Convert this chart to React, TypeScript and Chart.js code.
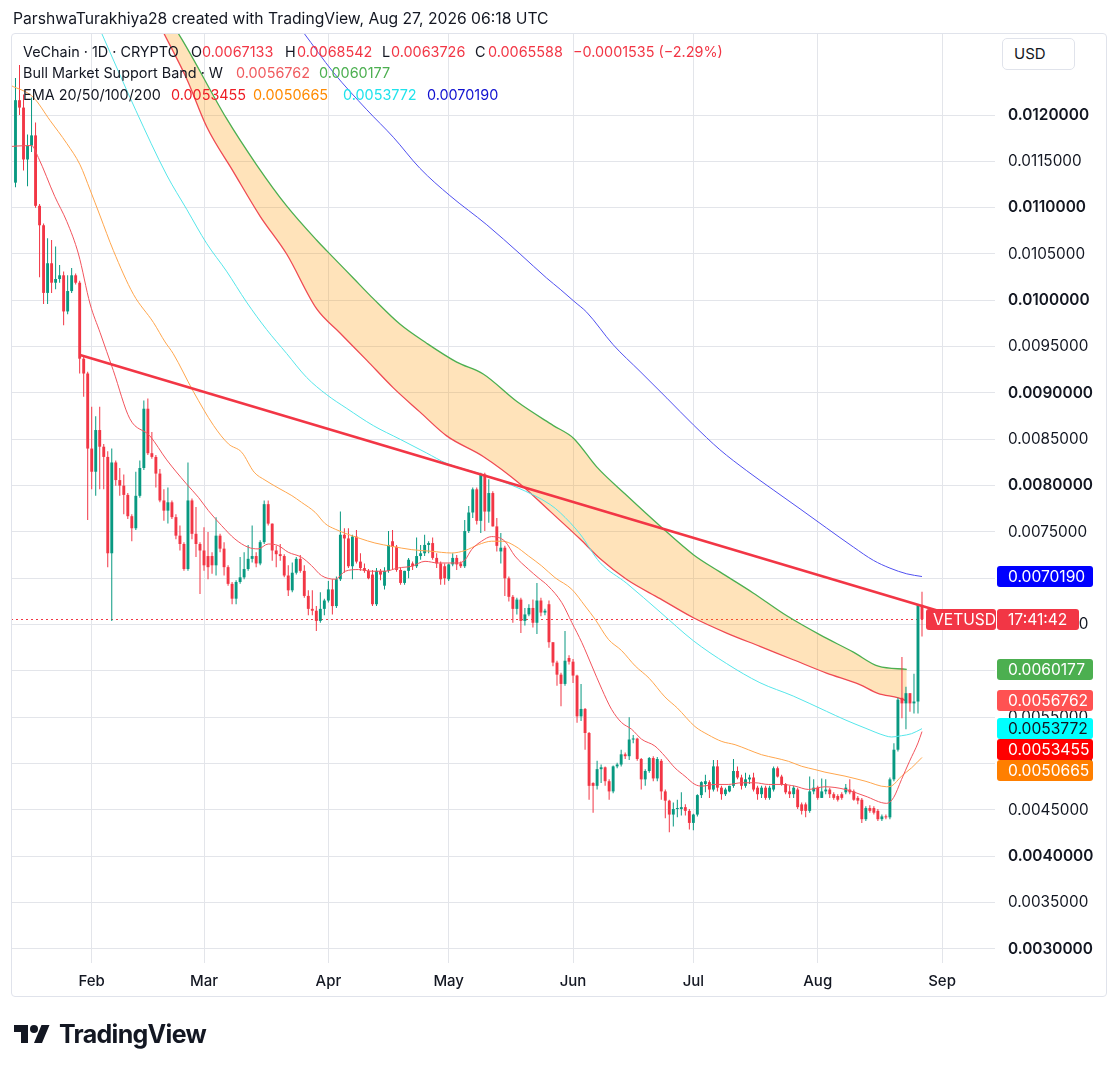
import React, { useEffect, useRef } from 'react';
import { Chart, registerables } from 'chart.js';

Chart.register(...registerables);

const FONT = 'Inter, "Noto Sans", "DejaVu Sans", sans-serif';
const TEXT = '#131722';
const UP = '#089981';
const DOWN = '#F23645';
const GRID = '#e3e5ea';

// Day index 0 = Jan 13 2026 (daily candles)
const OPEN = [
  0.01127, 0.01216, 0.01208, 0.01152, 0.01167, 0.01178, 0.01102, 0.01081, 0.01008, 0.01040,
  0.01019, 0.01023, 0.01027, 0.00988, 0.01010, 0.01027, 0.01019, 0.00937, 0.00921, 0.00840,
  0.00815, 0.00860, 0.00842, 0.00831, 0.00727, 0.00825, 0.00806, 0.00800, 0.00790, 0.00767,
  0.00754, 0.00789, 0.00819, 0.00883, 0.00835, 0.00831, 0.00813, 0.00784, 0.00773, 0.00782,
  0.00766, 0.00746, 0.00737, 0.00710, 0.00784, 0.00748, 0.00737, 0.00730, 0.00724, 0.00724,
  0.00714, 0.00746, 0.00732, 0.00712, 0.00694, 0.00678, 0.00696, 0.00701, 0.00710, 0.00721,
  0.00724, 0.00716, 0.00739, 0.00780, 0.00759, 0.00730, 0.00726, 0.00724, 0.00703, 0.00687,
  0.00706, 0.00721, 0.00708, 0.00681, 0.00667, 0.00665, 0.00654, 0.00667, 0.00676, 0.00688,
  0.00670, 0.00699, 0.00747, 0.00743, 0.00713, 0.00745, 0.00718, 0.00711, 0.00708, 0.00704,
  0.00672, 0.00708, 0.00692, 0.00708, 0.00740, 0.00734, 0.00709, 0.00695, 0.00708, 0.00716,
  0.00713, 0.00724, 0.00727, 0.00736, 0.00738, 0.00722, 0.00716, 0.00713, 0.00699, 0.00715,
  0.00722, 0.00716, 0.00713, 0.00751, 0.00771, 0.00796, 0.00762, 0.00812, 0.00772, 0.00792,
  0.00756, 0.00729, 0.00733, 0.00700, 0.00680, 0.00667, 0.00677, 0.00654, 0.00661, 0.00668,
  0.00652, 0.00676, 0.00663, 0.00672, 0.00631, 0.00609, 0.00596, 0.00586, 0.00614, 0.00610,
  0.00595, 0.00551, 0.00559, 0.00533, 0.00479, 0.00476, 0.00494, 0.00496, 0.00481, 0.00470,
  0.00497, 0.00499, 0.00510, 0.00508, 0.00526, 0.00527, 0.00505, 0.00483, 0.00492, 0.00506,
  0.00484, 0.00503, 0.00470, 0.00460, 0.00445, 0.00451, 0.00451, 0.00453, 0.00449, 0.00436,
  0.00445, 0.00466, 0.00478, 0.00480, 0.00472, 0.00497, 0.00474, 0.00467, 0.00470, 0.00476,
  0.00492, 0.00485, 0.00476, 0.00483, 0.00485, 0.00474, 0.00467, 0.00474, 0.00463, 0.00472,
  0.00495, 0.00486, 0.00478, 0.00470, 0.00467, 0.00472, 0.00456, 0.00456, 0.00449, 0.00470,
  0.00474, 0.00463, 0.00470, 0.00472, 0.00467, 0.00465, 0.00467, 0.00469, 0.00472, 0.00470,
  0.00463, 0.00461, 0.00440, 0.00452, 0.00452, 0.00449, 0.00440, 0.00443, 0.00442, 0.00483,
  0.00515, 0.00571, 0.00565, 0.00576, 0.00565, 0.00567, 0.0067133,
];
const HIGH = [
  0.01240, 0.01254, 0.01222, 0.01179, 0.01219, 0.01192, 0.01104, 0.01083, 0.01067, 0.01065,
  0.01058, 0.01038, 0.01031, 0.01027, 0.01035, 0.01029, 0.01021, 0.00939, 0.00923, 0.00885,
  0.00875, 0.00885, 0.00845, 0.00837, 0.00840, 0.00827, 0.00819, 0.00812, 0.00792, 0.00769,
  0.00815, 0.00827, 0.00892, 0.00894, 0.00858, 0.00833, 0.00818, 0.00796, 0.00798, 0.00784,
  0.00769, 0.00757, 0.00739, 0.00825, 0.00786, 0.00777, 0.00739, 0.00755, 0.00750, 0.00728,
  0.00766, 0.00748, 0.00739, 0.00714, 0.00696, 0.00698, 0.00723, 0.00728, 0.00736, 0.00757,
  0.00728, 0.00741, 0.00784, 0.00784, 0.00759, 0.00735, 0.00737, 0.00726, 0.00714, 0.00717,
  0.00723, 0.00725, 0.00714, 0.00687, 0.00687, 0.00670, 0.00685, 0.00678, 0.00697, 0.00699,
  0.00702, 0.00772, 0.00754, 0.00754, 0.00747, 0.00752, 0.00727, 0.00716, 0.00710, 0.00709,
  0.00711, 0.00710, 0.00712, 0.00751, 0.00752, 0.00736, 0.00711, 0.00708, 0.00722, 0.00718,
  0.00744, 0.00736, 0.00747, 0.00740, 0.00744, 0.00727, 0.00718, 0.00716, 0.00716, 0.00727,
  0.00725, 0.00718, 0.00763, 0.00778, 0.00798, 0.00798, 0.00814, 0.00814, 0.00807, 0.00794,
  0.00765, 0.00749, 0.00735, 0.00702, 0.00682, 0.00679, 0.00679, 0.00668, 0.00672, 0.00677,
  0.00695, 0.00679, 0.00667, 0.00676, 0.00631, 0.00611, 0.00598, 0.00643, 0.00617, 0.00613,
  0.00596, 0.00586, 0.00560, 0.00534, 0.00480, 0.00503, 0.00499, 0.00497, 0.00483, 0.00498,
  0.00501, 0.00515, 0.00512, 0.00550, 0.00531, 0.00528, 0.00506, 0.00494, 0.00507, 0.00508,
  0.00507, 0.00505, 0.00472, 0.00461, 0.00458, 0.00461, 0.00469, 0.00456, 0.00451, 0.00446,
  0.00467, 0.00481, 0.00488, 0.00482, 0.00504, 0.00504, 0.00476, 0.00474, 0.00476, 0.00505,
  0.00497, 0.00488, 0.00490, 0.00488, 0.00490, 0.00476, 0.00476, 0.00476, 0.00476, 0.00497,
  0.00497, 0.00488, 0.00479, 0.00476, 0.00476, 0.00474, 0.00458, 0.00458, 0.00486, 0.00483,
  0.00476, 0.00484, 0.00483, 0.00474, 0.00469, 0.00467, 0.00469, 0.00478, 0.00483, 0.00472,
  0.00465, 0.00463, 0.00454, 0.00455, 0.00454, 0.00451, 0.00445, 0.00445, 0.00485, 0.00522,
  0.00571, 0.00615, 0.00583, 0.00576, 0.00597, 0.00672, 0.0068542,
];
const LOW = [
  0.01122, 0.01200, 0.01140, 0.01123, 0.01160, 0.01100, 0.01025, 0.00996, 0.00996, 0.01008,
  0.01012, 0.01019, 0.00973, 0.00985, 0.01008, 0.01017, 0.00921, 0.00896, 0.00763, 0.00796,
  0.00789, 0.00796, 0.00796, 0.00712, 0.00654, 0.00800, 0.00789, 0.00769, 0.00764, 0.00740,
  0.00752, 0.00787, 0.00817, 0.00833, 0.00829, 0.00798, 0.00782, 0.00762, 0.00759, 0.00764,
  0.00742, 0.00730, 0.00708, 0.00708, 0.00742, 0.00723, 0.00683, 0.00708, 0.00699, 0.00705,
  0.00703, 0.00728, 0.00703, 0.00692, 0.00672, 0.00672, 0.00694, 0.00699, 0.00708, 0.00717,
  0.00712, 0.00714, 0.00737, 0.00757, 0.00719, 0.00712, 0.00719, 0.00701, 0.00681, 0.00685,
  0.00704, 0.00706, 0.00679, 0.00660, 0.00660, 0.00643, 0.00652, 0.00660, 0.00674, 0.00661,
  0.00668, 0.00697, 0.00706, 0.00711, 0.00699, 0.00716, 0.00708, 0.00706, 0.00699, 0.00670,
  0.00670, 0.00698, 0.00688, 0.00706, 0.00709, 0.00707, 0.00693, 0.00693, 0.00700, 0.00709,
  0.00711, 0.00720, 0.00724, 0.00727, 0.00720, 0.00711, 0.00693, 0.00693, 0.00697, 0.00713,
  0.00709, 0.00711, 0.00711, 0.00749, 0.00765, 0.00758, 0.00749, 0.00751, 0.00760, 0.00756,
  0.00729, 0.00716, 0.00681, 0.00675, 0.00652, 0.00661, 0.00641, 0.00649, 0.00659, 0.00647,
  0.00640, 0.00659, 0.00660, 0.00625, 0.00605, 0.00584, 0.00562, 0.00584, 0.00607, 0.00587,
  0.00544, 0.00546, 0.00515, 0.00461, 0.00447, 0.00472, 0.00479, 0.00476, 0.00461, 0.00468,
  0.00495, 0.00497, 0.00505, 0.00504, 0.00522, 0.00503, 0.00472, 0.00476, 0.00490, 0.00481,
  0.00481, 0.00461, 0.00441, 0.00426, 0.00432, 0.00442, 0.00444, 0.00444, 0.00429, 0.00428,
  0.00443, 0.00463, 0.00469, 0.00463, 0.00470, 0.00470, 0.00461, 0.00465, 0.00469, 0.00474,
  0.00483, 0.00472, 0.00474, 0.00478, 0.00470, 0.00461, 0.00463, 0.00461, 0.00461, 0.00470,
  0.00485, 0.00476, 0.00467, 0.00463, 0.00463, 0.00451, 0.00445, 0.00442, 0.00447, 0.00467,
  0.00461, 0.00463, 0.00467, 0.00463, 0.00461, 0.00459, 0.00461, 0.00467, 0.00467, 0.00460,
  0.00456, 0.00436, 0.00438, 0.00447, 0.00445, 0.00438, 0.00438, 0.00440, 0.00440, 0.00481,
  0.00513, 0.00549, 0.00537, 0.00556, 0.00554, 0.00554, 0.0063726,
];
const CLOSE = [
  0.01216, 0.01208, 0.01152, 0.01167, 0.01178, 0.01102, 0.01081, 0.01008, 0.01040, 0.01019,
  0.01023, 0.01027, 0.00988, 0.01010, 0.01027, 0.01019, 0.00937, 0.00921, 0.00840, 0.00815,
  0.00860, 0.00842, 0.00831, 0.00727, 0.00825, 0.00806, 0.00800, 0.00790, 0.00767, 0.00754,
  0.00789, 0.00819, 0.00883, 0.00835, 0.00831, 0.00813, 0.00784, 0.00773, 0.00782, 0.00766,
  0.00746, 0.00737, 0.00710, 0.00784, 0.00748, 0.00737, 0.00730, 0.00714, 0.00712, 0.00714,
  0.00746, 0.00732, 0.00712, 0.00694, 0.00678, 0.00696, 0.00701, 0.00710, 0.00721, 0.00724,
  0.00716, 0.00739, 0.00780, 0.00759, 0.00730, 0.00726, 0.00724, 0.00703, 0.00687, 0.00706,
  0.00721, 0.00708, 0.00681, 0.00667, 0.00665, 0.00654, 0.00667, 0.00676, 0.00688, 0.00670,
  0.00699, 0.00747, 0.00743, 0.00713, 0.00745, 0.00718, 0.00711, 0.00708, 0.00700, 0.00672,
  0.00708, 0.00704, 0.00708, 0.00736, 0.00734, 0.00709, 0.00695, 0.00708, 0.00720, 0.00713,
  0.00724, 0.00727, 0.00736, 0.00738, 0.00722, 0.00716, 0.00699, 0.00700, 0.00715, 0.00722,
  0.00715, 0.00713, 0.00751, 0.00771, 0.00796, 0.00762, 0.00812, 0.00772, 0.00792, 0.00756,
  0.00735, 0.00733, 0.00700, 0.00680, 0.00667, 0.00677, 0.00654, 0.00661, 0.00668, 0.00652,
  0.00676, 0.00663, 0.00665, 0.00631, 0.00609, 0.00596, 0.00586, 0.00611, 0.00610, 0.00595,
  0.00551, 0.00559, 0.00533, 0.00476, 0.00476, 0.00494, 0.00496, 0.00481, 0.00470, 0.00497,
  0.00499, 0.00510, 0.00508, 0.00526, 0.00527, 0.00505, 0.00483, 0.00492, 0.00506, 0.00484,
  0.00505, 0.00470, 0.00460, 0.00445, 0.00451, 0.00452, 0.00453, 0.00449, 0.00436, 0.00445,
  0.00466, 0.00480, 0.00481, 0.00472, 0.00497, 0.00474, 0.00467, 0.00472, 0.00476, 0.00492,
  0.00485, 0.00476, 0.00483, 0.00485, 0.00472, 0.00467, 0.00474, 0.00463, 0.00474, 0.00495,
  0.00486, 0.00478, 0.00469, 0.00467, 0.00474, 0.00453, 0.00449, 0.00449, 0.00470, 0.00474,
  0.00463, 0.00470, 0.00472, 0.00467, 0.00463, 0.00461, 0.00463, 0.00474, 0.00469, 0.00461,
  0.00460, 0.00440, 0.00452, 0.00449, 0.00447, 0.00440, 0.00443, 0.00442, 0.00483, 0.00515,
  0.00569, 0.00565, 0.00576, 0.00565, 0.00567, 0.00671, 0.0065588,
];

const EMA20_DAYS = [-1.2, 0.3, 4, 5.7, 9.8, 12.8, 15.7, 18.6, 21.1, 24.4, 28.5, 33.5, 37.7, 42.5, 45.6, 48.1, 51.4, 54.7, 58, 60.5, 63, 65.5, 68, 71.3, 73.8, 76.3, 79.7, 82.2, 85.5, 88.8, 92.1, 95.4, 98.8, 102.1, 105.4, 110.4, 112.1, 113.7, 116.2, 118.7, 122, 124.5, 127.9, 130.3, 132.8, 136.2, 138.7, 141.2, 143.7, 146.2, 148.6, 151.1, 153.6, 156.1, 159.4, 161.9, 164.4, 166.9, 169.4, 171.1, 174.4, 177.7, 181, 184.4, 187.7, 191, 194.3, 197.7, 201.8, 206.8, 211.8, 217.2, 218.9, 220.9, 222.9, 225, 226];
const EMA20_VALUES = [0.01166, 0.011665, 0.01167, 0.01154, 0.01112, 0.01085, 0.0105, 0.00996, 0.00965, 0.009241, 0.008722, 0.008537, 0.008278, 0.008025, 0.007874, 0.00773, 0.007568, 0.007424, 0.007335, 0.007317, 0.00737, 0.007353, 0.007281, 0.007227, 0.007137, 0.007029, 0.00699, 0.007076, 0.007094, 0.007076, 0.007076, 0.007112, 0.00713, 0.007183, 0.007165, 0.007165, 0.0072, 0.007309, 0.0074, 0.00745, 0.0074, 0.007241, 0.007097, 0.007007, 0.006917, 0.006737, 0.006522, 0.006306, 0.006054, 0.005802, 0.005586, 0.005443, 0.005371, 0.005263, 0.00519, 0.00508, 0.004954, 0.004864, 0.004775, 0.004757, 0.004775, 0.004775, 0.004793, 0.004793, 0.004775, 0.004775, 0.004757, 0.004721, 0.00475, 0.004722, 0.00465, 0.004571, 0.004632, 0.004829, 0.005026, 0.005223, 0.0053455];

const EMA50_DAYS = [-1.2, 4.4, 8.6, 12.8, 16.1, 18.6, 21.1, 24.4, 29.4, 34.4, 37.3, 39.3, 44.3, 49.4, 53.1, 56.4, 59.5, 62.2, 65.7, 68.9, 71.3, 74.7, 77.2, 79.7, 85.9, 89.6, 93.8, 98.8, 103.8, 108.7, 112.1, 115.4, 118.7, 121.5, 124.5, 127.9, 131.2, 134.5, 138.7, 142, 144.5, 147.8, 151.1, 154.5, 158, 161.9, 165, 169.4, 172.7, 176.1, 179.4, 182.7, 186, 189.4, 192.7, 196, 199.3, 201.8, 206.8, 211.8, 217.2, 218.4, 220.9, 223.4, 226];
const EMA50_VALUES = [0.01232, 0.012192, 0.011942, 0.011692, 0.011462, 0.011192, 0.01091, 0.010537, 0.010065, 0.00976, 0.00955, 0.009426, 0.009019, 0.008648, 0.00845, 0.00836, 0.008145, 0.00806, 0.00797, 0.007892, 0.00782, 0.007712, 0.00759, 0.00753, 0.00743, 0.007381, 0.007345, 0.007309, 0.007291, 0.007273, 0.0073, 0.007363, 0.0074, 0.0074, 0.007349, 0.007241, 0.007133, 0.007007, 0.006881, 0.006701, 0.006558, 0.006342, 0.00622, 0.006054, 0.00592, 0.00572, 0.0056, 0.0054, 0.005311, 0.005239, 0.005204, 0.00515, 0.005096, 0.005061, 0.005025, 0.004971, 0.004936, 0.004908, 0.004865, 0.004811, 0.00475, 0.004758, 0.004865, 0.004954, 0.0050665];

const EMA100_DAYS = [21.3, 30, 37.7, 42.7, 47.7, 52.6, 57.6, 62.6, 67.6, 72.6, 77.6, 82.6, 89.2, 95.9, 102.5, 107.5, 115.8, 125, 133.3, 135.8, 140.7, 145.7, 152.4, 160.7, 169, 177.3, 185.6, 193.9, 202.2, 206.8, 211.8, 216.8, 218.4, 220.9, 223.4, 226];
const EMA100_VALUES = [0.0129, 0.01205, 0.011352, 0.010981, 0.010611, 0.010315, 0.009981, 0.009685, 0.009426, 0.009167, 0.008981, 0.008833, 0.008648, 0.0085, 0.008352, 0.00824, 0.008129, 0.007981, 0.007796, 0.007708, 0.00748, 0.007171, 0.006945, 0.006636, 0.006326, 0.006079, 0.005873, 0.005729, 0.005564, 0.005473, 0.005384, 0.005301, 0.005287, 0.005301, 0.005323, 0.0053772];

const EMA200_DAYS = [71.8, 79.2, 87.6, 94.2, 100.8, 108.3, 117.5, 125.8, 132.4, 135.8, 139.5, 142.4, 149, 155.7, 162.4, 169, 175.6, 182.3, 188.9, 195.6, 202.2, 208.9, 213.9, 218, 222.2, 226];
const EMA200_VALUES = [0.01289, 0.012463, 0.012056, 0.01176, 0.011426, 0.01113, 0.010815, 0.0105, 0.010241, 0.010119, 0.00998, 0.009872, 0.009521, 0.009233, 0.008944, 0.008656, 0.008388, 0.008161, 0.007955, 0.007749, 0.007543, 0.007337, 0.007193, 0.00711, 0.007048, 0.007019];

const BAND_LOWER_DAYS = [36.9, 42.7, 47.7, 54.3, 61, 67.6, 75.1, 80.9, 87.6, 94.2, 100.8, 107.5, 116.6, 125.8, 133.3, 140.7, 145.7, 152.4, 160.7, 169, 177.3, 185.6, 193.9, 202.2, 210.5, 215, 220.1, 222.2];
const BAND_LOWER_VALUES = [0.01289, 0.012389, 0.01187, 0.011389, 0.010907, 0.0105, 0.009907, 0.009648, 0.009352, 0.009055, 0.008796, 0.008537, 0.008315, 0.008018, 0.007722, 0.007426, 0.007213, 0.006986, 0.00678, 0.006574, 0.006409, 0.006265, 0.006121, 0.005977, 0.005853, 0.005759, 0.005709, 0.0056762];

const BAND_UPPER_DAYS = [36, 41, 52.6, 60.1, 67.6, 75.1, 79.2, 84.2, 89.2, 95.9, 102.5, 110, 116.6, 125, 134.1, 139.1, 144.9, 152.4, 160.7, 169, 175.6, 183.9, 192.3, 200.6, 208.9, 215.1, 222.2];
const BAND_UPPER_VALUES = [0.01317, 0.012852, 0.011963, 0.011463, 0.011019, 0.010648, 0.010463, 0.010241, 0.010018, 0.009741, 0.009537, 0.009333, 0.009204, 0.008907, 0.008648, 0.008512, 0.008202, 0.007893, 0.007564, 0.007255, 0.007069, 0.006842, 0.006595, 0.006389, 0.006203, 0.006051, 0.0060177];

const TREND_DAYS = [16.1, 230];
const TREND_VALUES = [0.00941, 0.00665];

const MONTH_DAYS = [19, 47, 78, 108, 139, 169, 200, 231];
const MONTH_LABELS = ['Feb', 'Mar', 'Apr', 'May', 'Jun', 'Jul', 'Aug', 'Sep'];
const Y_TICKS = [0.003, 0.0035, 0.004, 0.0045, 0.005, 0.0055, 0.006, 0.0065, 0.007, 0.0075, 0.008, 0.0085, 0.009, 0.0095, 0.01, 0.0105, 0.011, 0.0115, 0.012];

const LAST_PRICE = 0.0065588;
const COUNTDOWN = '17:41:42';
const AXIS_LABEL_VALUES = [0.0070190, LAST_PRICE, 0.0060177, 0.0056762, 0.0053772, 0.0053455, 0.0050665];
const AXIS_LABEL_TEXTS = ['0.0070190', COUNTDOWN, '0.0060177', '0.0056762', '0.0053772', '0.0053455', '0.0050665'];
const AXIS_LABEL_BG = ['#0000FF', '#F23645', '#4CAF50', '#FF5252', '#00FFFF', '#FF0000', '#FF7F00'];
const AXIS_LABEL_FG = ['#ffffff', '#ffffff', '#ffffff', '#ffffff', '#131722', '#ffffff', '#ffffff'];
const AXIS_LABEL_W = [96, 82, 96, 96, 96, 96, 96];

const LEGEND_ROWS = [
  {
    y: 52,
    items: [
      { t: 'VeChain · 1D · CRYPTO', x: 23, c: TEXT },
      { t: 'O', x: 191, c: TEXT },
      { t: '0.0067133', x: 202, c: DOWN },
      { t: 'H', x: 285, c: TEXT },
      { t: '0.0068542', x: 297, c: DOWN },
      { t: 'L', x: 382, c: TEXT },
      { t: '0.0063726', x: 391, c: DOWN },
      { t: 'C', x: 475, c: TEXT },
      { t: '0.0065588', x: 488, c: DOWN },
      { t: '−0.0001535 (−2.29%)', x: 573, c: DOWN },
    ],
  },
  {
    y: 73,
    items: [
      { t: 'Bull Market Support Band · W', x: 23, c: TEXT },
      { t: '0.0056762', x: 236, c: '#F05A5E' },
      { t: '0.0060177', x: 319, c: '#4CAF50' },
    ],
  },
  {
    y: 95,
    items: [
      { t: 'EMA 20/50/100/200', x: 23, c: TEXT },
      { t: '0.0053455', x: 171, c: '#EE1C25' },
      { t: '0.0050665', x: 253, c: '#FF8A00' },
      { t: '0.0053772', x: 343, c: '#1FE3EC' },
      { t: '0.0070190', x: 427, c: '#1010D0' },
    ],
  },
];

const pts = (days: number[], vals: number[]) => days.map((d, i) => ({ x: d, y: vals[i] }));

function roundRect(ctx: CanvasRenderingContext2D, x: number, y: number, w: number, h: number, r: number) {
  ctx.beginPath();
  ctx.moveTo(x + r, y);
  ctx.lineTo(x + w - r, y);
  ctx.quadraticCurveTo(x + w, y, x + w, y + r);
  ctx.lineTo(x + w, y + h - r);
  ctx.quadraticCurveTo(x + w, y + h, x + w - r, y + h);
  ctx.lineTo(x + r, y + h);
  ctx.quadraticCurveTo(x, y + h, x, y + h - r);
  ctx.lineTo(x, y + r);
  ctx.quadraticCurveTo(x, y, x + r, y);
  ctx.closePath();
}

const overlayPlugin = {
  id: 'tvOverlay',
  beforeDatasetsDraw(chart: any) {
    const { ctx, chartArea } = chart;
    const py = Math.round(chart.scales.y.getPixelForValue(LAST_PRICE)) + 0.5;
    ctx.save();
    ctx.strokeStyle = '#F23645';
    ctx.lineWidth = 1;
    ctx.setLineDash([2, 3]);
    ctx.beginPath();
    ctx.moveTo(chartArea.left, py);
    ctx.lineTo(chartArea.right, py);
    ctx.stroke();
    ctx.restore();
  },
  afterDraw(chart: any) {
    const { ctx, chartArea } = chart;
    const yScale = chart.scales.y;
    const items = AXIS_LABEL_VALUES.map((v, i) => ({
      text: AXIS_LABEL_TEXTS[i],
      bg: AXIS_LABEL_BG[i],
      fg: AXIS_LABEL_FG[i],
      w: AXIS_LABEL_W[i],
      py: yScale.getPixelForValue(v),
    }));
    items.sort((a, b) => a.py - b.py);
    const H = 21;
    for (let i = 1; i < items.length; i++) {
      if (items[i].py < items[i - 1].py + H) items[i].py = items[i - 1].py + H;
    }
    ctx.save();
    ctx.font = `15.6px ${FONT}`;
    ctx.textBaseline = 'middle';
    ctx.textAlign = 'left';
    items.forEach((it) => {
      const top = Math.round(it.py - H / 2);
      if (it.text === COUNTDOWN) {
        ctx.fillStyle = DOWN;
        roundRect(ctx, chartArea.right - 69, top, 70, H, 3);
        ctx.fill();
        ctx.fillStyle = '#ffffff';
        ctx.fillText('VETUSD', chartArea.right - 62, top + H / 2 + 0.5);
      }
      ctx.fillStyle = it.bg;
      roundRect(ctx, chartArea.right + 2, top, it.w, H, 3);
      ctx.fill();
      ctx.fillStyle = it.fg;
      ctx.fillText(it.text, chartArea.right + 13, top + H / 2 + 0.5);
    });
    ctx.restore();
  },
};

export default function App() {
  const canvasRef = useRef<HTMLCanvasElement | null>(null);

  useEffect(() => {
    const canvas = canvasRef.current;
    if (!canvas) return;
    const idx = OPEN.map((_, i) => i);
    const candleColor = (ctx: any) => (CLOSE[ctx.dataIndex] >= OPEN[ctx.dataIndex] ? UP : DOWN);
    const lineBase = {
      type: 'line' as const,
      pointRadius: 0,
      pointHoverRadius: 0,
      borderWidth: 1,
      fill: false,
      cubicInterpolationMode: 'monotone' as const,
    };

    const chart = new Chart(canvas, {
      type: 'bar',
      data: {
        datasets: [
          {
            ...lineBase,
            label: 'Band lower',
            data: pts(BAND_LOWER_DAYS, BAND_LOWER_VALUES),
            borderColor: '#EF4A52',
            borderWidth: 1.3,
            fill: '+1',
            backgroundColor: 'rgba(255,152,0,0.27)',
            order: 13,
          },
          {
            ...lineBase,
            label: 'Band upper',
            data: pts(BAND_UPPER_DAYS, BAND_UPPER_VALUES),
            borderColor: '#4CAF50',
            borderWidth: 1.3,
            order: 12,
          },
          {
            type: 'bar',
            label: 'Wicks',
            data: idx.map((i) => ({ x: i, y: [LOW[i], HIGH[i]] })),
            backgroundColor: candleColor,
            borderWidth: 0,
            grouped: false,
            maxBarThickness: 1,
            minBarLength: 1,
            order: 11,
          },
          {
            type: 'bar',
            label: 'Bodies',
            data: idx.map((i) => ({ x: i, y: [OPEN[i], CLOSE[i]] })),
            backgroundColor: candleColor,
            borderWidth: 0,
            grouped: false,
            maxBarThickness: 3,
            minBarLength: 1,
            order: 10,
          },
          { ...lineBase, label: 'EMA200', data: pts(EMA200_DAYS, EMA200_VALUES), borderColor: '#5050F0', order: 5 },
          { ...lineBase, label: 'EMA100', data: pts(EMA100_DAYS, EMA100_VALUES), borderColor: '#55E6EA', order: 4 },
          { ...lineBase, label: 'EMA50', data: pts(EMA50_DAYS, EMA50_VALUES), borderColor: '#FFA64D', order: 3 },
          { ...lineBase, label: 'EMA20', data: pts(EMA20_DAYS, EMA20_VALUES), borderColor: '#F2545D', order: 2 },
          {
            ...lineBase,
            label: 'Trend',
            data: pts(TREND_DAYS, TREND_VALUES),
            borderColor: '#F23645',
            borderWidth: 2.5,
            cubicInterpolationMode: 'default' as const,
            order: 1,
          },
        ] as any,
      },
      options: {
        animation: false,
        responsive: false,
        maintainAspectRatio: false,
        events: [],
        layout: { padding: { left: 11, top: 33, right: 10, bottom: 75 } },
        plugins: { legend: { display: false }, tooltip: { enabled: false } },
        scales: {
          x: {
            type: 'linear',
            min: -1.12,
            max: 244.2,
            offset: false,
            grid: { color: GRID, drawTicks: false, lineWidth: 1, offset: false },
            border: { display: false },
            afterBuildTicks: (scale: any) => {
              scale.ticks = MONTH_DAYS.map((value) => ({ value }));
            },
            afterFit: (scale: any) => {
              scale.height = 34;
            },
            ticks: {
              autoSkip: false,
              maxRotation: 0,
              padding: 9,
              color: TEXT,
              font: { family: FONT, size: 15, weight: 500 },
              callback: (_v: any, index: number) => MONTH_LABELS[index],
            },
          },
          y: {
            type: 'linear',
            position: 'right',
            min: 0.002848,
            max: 0.012885,
            grid: { color: GRID, drawTicks: false, lineWidth: 1 },
            border: { display: false },
            afterBuildTicks: (scale: any) => {
              scale.ticks = Y_TICKS.map((value) => ({ value }));
            },
            afterFit: (scale: any) => {
              scale.width = 115;
            },
            ticks: {
              padding: 13,
              color: TEXT,
              crossAlign: 'near',
              font: (ctx: any) => {
                const v = ctx.tick ? ctx.tick.value : 0;
                const major = Math.abs(v * 1000 - Math.round(v * 1000)) < 1e-6;
                return { family: FONT, size: major ? 15.4 : 15.3, weight: major ? 600 : 400 };
              },
              callback: (v: any) => Number(v).toFixed(7),
            },
          },
        },
      } as any,
      plugins: [overlayPlugin],
    });
    return () => chart.destroy();
  }, []);

  return (
    <div
      style={{
        position: 'fixed',
        left: 0,
        top: 0,
        width: 1120,
        height: 1072,
        background: '#ffffff',
        overflow: 'hidden',
        fontFamily: FONT,
        color: TEXT,
      }}
    >
      <canvas
        ref={canvasRef}
        width={1120}
        height={1072}
        style={{ position: 'absolute', left: 0, top: 0, width: 1120, height: 1072 }}
      />
      <div
        style={{
          position: 'absolute',
          left: 11,
          top: 33,
          width: 1096,
          height: 964,
          border: '1px solid #e0e3eb',
          borderRadius: 4,
          boxSizing: 'border-box',
          pointerEvents: 'none',
        }}
      />
      <div style={{ position: 'absolute', left: 13, top: 9, fontSize: 15.7, lineHeight: '20px', whiteSpace: 'nowrap' }}>
        ParshwaTurakhiya28 created with TradingView, Aug 27, 2026 06:18 UTC
      </div>
      {LEGEND_ROWS.map((row, r) =>
        row.items.map((it, k) => (
          <div
            key={`${r}-${k}`}
            style={{
              position: 'absolute',
              left: it.x,
              top: row.y - 10,
              fontSize: 14.4,
              lineHeight: '20px',
              whiteSpace: 'nowrap',
              color: it.c,
            }}
          >
            {it.t}
          </div>
        ))
      )}
      <div
        style={{
          position: 'absolute',
          left: 1002,
          top: 38,
          width: 73,
          height: 32,
          border: '1px solid #e0e3eb',
          borderRadius: 5,
          boxSizing: 'border-box',
          fontSize: 15,
          lineHeight: '30px',
          paddingLeft: 11,
          background: '#ffffff',
        }}
      >
        USD
      </div>
      <svg
        style={{ position: 'absolute', left: 14, top: 1021 }}
        width={36}
        height={28}
        viewBox="0 0 36 28"
      >
        <path d="M14 22H7V11H0V4h14v18zM28 22h-8l7.5-18h8L28 22z" fill="#131722" />
        <circle cx="20" cy="8" r="4" fill="#131722" />
      </svg>
      <div
        style={{
          position: 'absolute',
          left: 59,
          top: 1019,
          fontSize: 25,
          fontWeight: 700,
          letterSpacing: '-0.7px',
          lineHeight: '30px',
          whiteSpace: 'nowrap',
        }}
      >
        TradingView
      </div>
    </div>
  );
}
